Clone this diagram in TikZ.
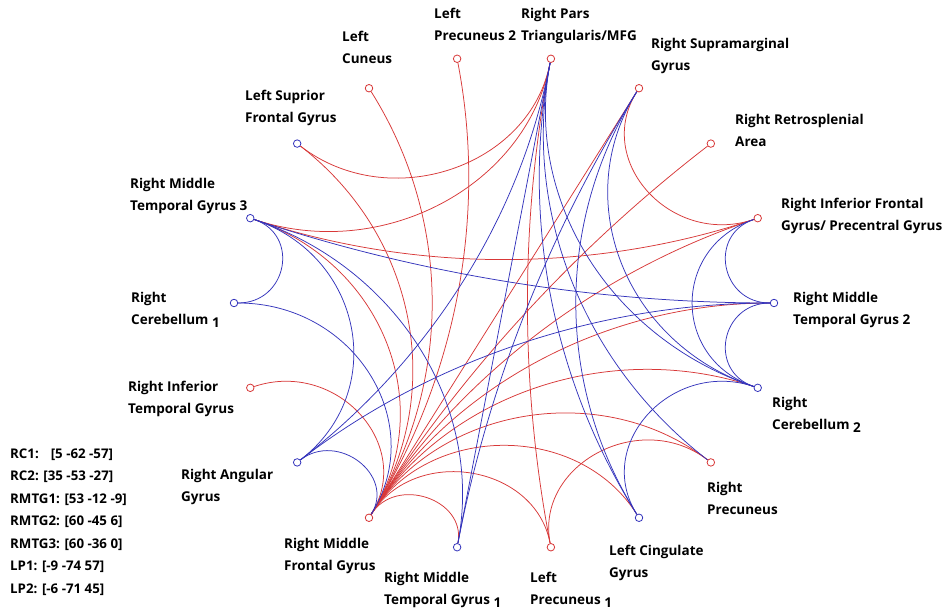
\documentclass[tikz,border=0pt]{standalone}
\usepackage{fontspec}
\setmainfont{Open Sans}
\usetikzlibrary{calc}
\definecolor{ered}{RGB}{216,56,56}
\definecolor{eblue}{RGB}{52,52,188}
\newcommand\linkedge[3]{%
  \pgfmathtruncatemacro\ldd{mod(#3-#2+18,18)}%
  \pgfmathtruncatemacro\ldd{\ldd>9 ? 18-\ldd : \ldd}%
  \pgfmathsetmacro\lth{min(20*\ldd,179.9)}%
  \pgfmathsetmacro\lkk{4/3*tan((180-\lth)/4)*tan(\lth/2)}%
  \draw[edgeline,#1] (n#2) .. controls ($(n#2)!\lkk!(O)$) and ($(n#3)!\lkk!(O)$) .. (n#3);%
}
\begin{document}
\begin{tikzpicture}[x=1pt,y=-1pt,
  roi/.style={circle,draw,fill=white,inner sep=0pt,minimum size=7.5pt,line width=0.8pt},
  edgeline/.style={line width=0.75pt},
  lab/.style={anchor=base west,align=left,inner sep=0pt,font=\fontsize{13.5}{22}\selectfont\bfseries},
  leg/.style={anchor=base west,align=left,inner sep=0pt,font=\fontsize{13.3}{22.5}\selectfont\bfseries}]
\useasboundingbox[fill=white] (0,0) rectangle (944,609);
\coordinate (O) at (504,303);
\foreach \i/\c in {0/eblue,1/ered,2/ered,3/ered,4/ered,5/ered,6/ered,7/eblue,8/eblue,9/eblue,10/ered,11/eblue,12/ered,13/eblue,14/ered,15/eblue,16/ered,17/eblue}
  \node[roi,draw=\c] (n\i) at ({504+270*cos(20*\i)},{303-248*sin(20*\i)}) {};
% red connections
\linkedge{ered}{4}{7}
\linkedge{ered}{4}{8}
\linkedge{ered}{4}{14}
\linkedge{ered}{8}{1}
\linkedge{ered}{3}{1}
\linkedge{ered}{14}{16}
\foreach \j in {0,1,2,3,5,6,7,8,10,13,14,15,16,17} {\linkedge{ered}{12}{\j}}
% blue connections
\linkedge{eblue}{8}{9}
\linkedge{eblue}{8}{0}
\linkedge{eblue}{8}{11}
\linkedge{eblue}{8}{13}
\linkedge{eblue}{9}{12}
\linkedge{eblue}{11}{12}
\linkedge{eblue}{11}{4}
\linkedge{eblue}{11}{0}
\linkedge{eblue}{4}{13}
\linkedge{eblue}{4}{15}
\linkedge{eblue}{4}{16}
\linkedge{eblue}{4}{17}
\linkedge{eblue}{3}{13}
\linkedge{eblue}{3}{15}
\linkedge{eblue}{3}{17}
\linkedge{eblue}{0}{1}
\linkedge{eblue}{0}{17}
\linkedge{eblue}{1}{17}
\linkedge{eblue}{17}{15}
% labels (anchor = baseline of last line)
\node[lab] (t4) at (521,41) {Right Pars\\Triangularis/MFG};
\node[lab] (t5) at (434,41) {Left\\Precuneus 2};
\node[lab] (t6) at (342,64) {Left\\Cuneus};
\node[lab] (t7) at (245,123) {Left Suprior\\Frontal Gyrus};
\node[lab] (t8) at (130,211) {Right Middle\\Temporal Gyrus 3};
\node[lab] (t9) at (131,324) {Right\\Cerebellum \raisebox{-3pt}{1}};
\node[lab] (t10) at (128,413) {Right Inferior\\Temporal Gyrus};
\node[lab] (t11) at (181,501) {Right Angular\\Gyrus};
\node[lab] (t12) at (284,570) {Right Middle\\Frontal Gyrus};
\node[lab] (t13) at (384,604) {Right Middle\\Temporal Gyrus \raisebox{-3pt}{1}};
\node[lab] (t14) at (530,604) {Left\\Precuneus \raisebox{-3pt}{1}};
\node[lab] (t15) at (609,577) {Left Cingulate\\Gyrus};
\node[lab] (t16) at (707,514) {Right\\Precuneus};
\node[lab] (t17) at (772,429) {Right\\Cerebellum \raisebox{-3pt}{2}};
\node[lab] (t0) at (793,324) {Right Middle\\Temporal Gyrus 2};
\node[lab] (t1) at (781,231) {Right Inferior Frontal\\Gyrus/ Precentral Gyrus};
\node[lab] (t2) at (735,147) {Right Retrosplenial\\Area};
\node[lab] (t3) at (651,71) {Right Supramarginal\\Gyrus};
\node[leg] (legend) at (10,593) {RC1:\hspace{12pt}[5 -62 -57]\\RC2: [35 -53 -27]\\RMTG1: [53 -12 -9]\\RMTG2: [60 -45 6]\\RMTG3: [60 -36 0]\\LP1: [-9 -74 57]\\LP2: [-6 -71 45]};
\end{tikzpicture}
\end{document}
